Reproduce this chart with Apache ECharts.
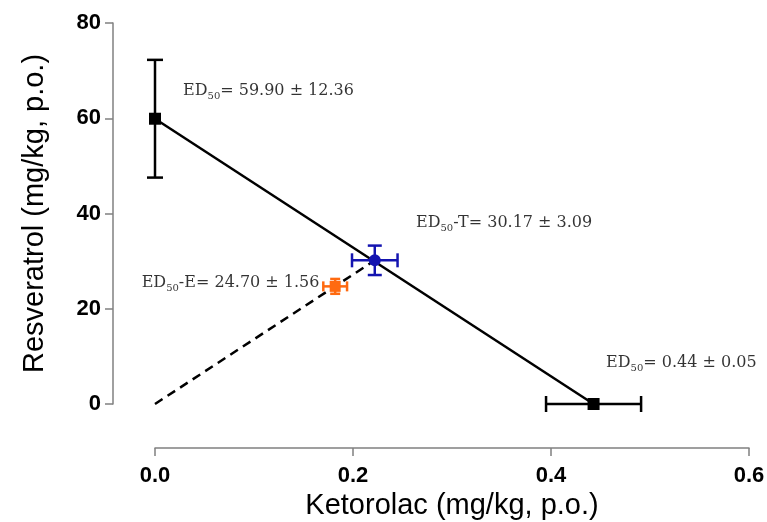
<!DOCTYPE html>
<html>
<head>
<meta charset="utf-8">
<script src="https://cdn.jsdelivr.net/npm/echarts@6/dist/echarts.min.js"></script>
<style>html,body{margin:0;padding:0;background:#fff;}#c{width:767px;height:522px;}</style>
</head>
<body>
<div id="c"></div>
<script>
// ---- data ----
var xTicks = [0, 0.2, 0.4, 0.6];
var yTicks = [0, 20, 40, 60, 80];
var pointNames = ['Resveratrol', 'Ketorolac', 'Theoretical', 'Experimental'];
var pointX = [0, 0.443, 0.222, 0.182];
var pointY = [59.90, 0, 30.17, 24.70];
var pointXErr = [0, 0.048, 0.023, 0.012];
var pointYErr = [12.36, 0, 3.09, 1.56];
var additivityLineX = [0, 0.443];
var additivityLineY = [59.90, 0];
var dashedLineX = [0, 0.222];
var dashedLineY = [0, 30.17];
var annotationText = [
  ['', '= 59.90 \u00b1 12.36'],
  ['-T', '= 30.17 \u00b1 3.09'],
  ['-E', '= 24.70 \u00b1 1.56'],
  ['', '= 0.44 \u00b1 0.05']
];
var annotationX = [0.0283, 0.2636, -0.0135, 0.4556];
var annotationY = [65.5, 37.8, 25.2, 8.4];

// ---- styles ----
var pointColors = ['#000000', '#000000', '#1414B0', '#FF6A10'];
var pointSymbols = ['rect', 'rect', 'circle', 'rect'];
var pointSizes = [12, 12, 12, 11];
var capHalf = [8, 8, 7, 5];
var axisGray = '#808080';
var serif = 'DejaVu Serif';

var chart = echarts.init(document.getElementById('c'));

var errData = pointX.map(function (x, i) { return [x, pointY[i], pointXErr[i], pointYErr[i], i]; });

function renderErr(params, api) {
  var x = api.value(0), y = api.value(1), xe = api.value(2), ye = api.value(3), i = api.value(4);
  var c = pointColors[i], h = capHalf[i];
  var style = { stroke: c, lineWidth: 2.5 };
  var children = [];
  if (ye > 0) {
    var top = api.coord([x, y + ye]), bot = api.coord([x, y - ye]);
    children.push({ type: 'line', shape: { x1: top[0], y1: top[1], x2: bot[0], y2: bot[1] }, style: style });
    children.push({ type: 'line', shape: { x1: top[0] - h, y1: top[1], x2: top[0] + h, y2: top[1] }, style: style });
    children.push({ type: 'line', shape: { x1: bot[0] - h, y1: bot[1], x2: bot[0] + h, y2: bot[1] }, style: style });
  }
  if (xe > 0) {
    var l = api.coord([x - xe, y]), r = api.coord([x + xe, y]);
    children.push({ type: 'line', shape: { x1: l[0], y1: l[1], x2: r[0], y2: r[1] }, style: style });
    children.push({ type: 'line', shape: { x1: l[0], y1: l[1] - h, x2: l[0], y2: l[1] + h }, style: style });
    children.push({ type: 'line', shape: { x1: r[0], y1: r[1] - h, x2: r[0], y2: r[1] + h }, style: style });
  }
  return { type: 'group', children: children };
}

var option = {
  animation: false,
  backgroundColor: '#ffffff',
  grid: { left: 155, right: 18, top: 23, bottom: 118, containLabel: false, outerBoundsMode: 'none' },
  xAxis: {
    type: 'value', min: xTicks[0], max: xTicks[xTicks.length - 1], interval: 0.2,
    offset: 44,
    name: 'Ketorolac (mg/kg, p.o.)', nameLocation: 'middle', nameGap: 43,
    nameTextStyle: { fontFamily: 'Liberation Sans', fontSize: 29, color: '#000' },
    axisLine: { show: true, onZero: false, lineStyle: { color: axisGray, width: 1.5 } },
    axisTick: { show: true, length: 8, lineStyle: { color: axisGray, width: 1.5 } },
    axisLabel: { margin: 17, fontFamily: 'Liberation Sans', fontWeight: 'bold', fontSize: 22, color: '#000',
      formatter: function (v) { return v.toFixed(1); } },
    splitLine: { show: false }
  },
  yAxis: {
    type: 'value', min: yTicks[0], max: yTicks[yTicks.length - 1], interval: 20,
    offset: 42,
    name: 'Resveratrol (mg/kg, p.o.)', nameLocation: 'middle', nameGap: 64,
    nameTextStyle: { fontFamily: 'Liberation Sans', fontSize: 29, color: '#000' },
    axisLine: { show: true, onZero: false, lineStyle: { color: axisGray, width: 1.5 } },
    axisTick: { show: true, length: 8, lineStyle: { color: axisGray, width: 1.5 } },
    axisLabel: { margin: 12, fontFamily: 'Liberation Sans', fontWeight: 'bold', fontSize: 22, color: '#000' },
    splitLine: { show: false }
  },
  series: [
    {
      type: 'line', data: additivityLineX.map(function (x, i) { return [x, additivityLineY[i]]; }),
      showSymbol: false, symbol: 'none', lineStyle: { color: '#000', width: 2.5 }, z: 2, silent: true
    },
    {
      type: 'line', data: dashedLineX.map(function (x, i) { return [x, dashedLineY[i]]; }),
      showSymbol: false, symbol: 'none', lineStyle: { color: '#000', width: 2.5, type: [9, 6] }, z: 2, silent: true
    },
    {
      type: 'custom', data: errData, renderItem: renderErr, clip: false, z: 3, silent: true
    },
    {
      type: 'scatter', clip: false, z: 4, silent: true,
      data: pointX.map(function (x, i) {
        return { value: [x, pointY[i]], symbol: pointSymbols[i], symbolSize: pointSizes[i],
          itemStyle: { color: pointColors[i], opacity: 1 } };
      })
    },
    {
      type: 'scatter', clip: false, z: 5, silent: true, symbolSize: 0,
      data: annotationX.map(function (x, i) { return [x, annotationY[i], i]; }),
      label: {
        show: true, position: 'right', distance: 0,
        formatter: function (p) {
          var t = annotationText[p.value[2]];
          return '{m|ED}{s|50}' + (t[0] ? '{m|' + t[0] + '}' : '') + '{m|' + t[1] + '}';
        },
        rich: {
          m: { fontFamily: serif, fontSize: 16, color: '#000', verticalAlign: 'bottom', padding: [0, 0, 3, 0] },
          s: { fontFamily: serif, fontSize: 10, color: '#000', verticalAlign: 'bottom' }
        }
      }
    }
  ]
};
chart.setOption(option);
</script>
</body>
</html>
